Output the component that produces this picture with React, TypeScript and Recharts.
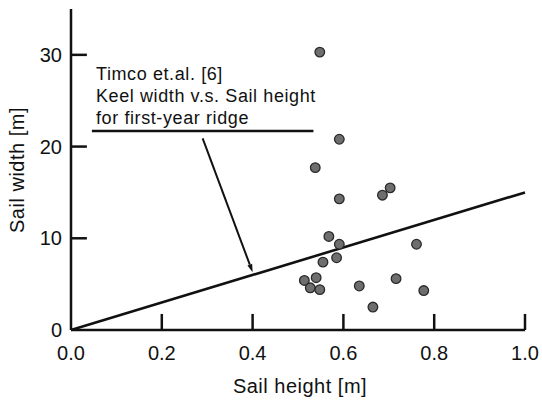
import React from 'react';
import { ComposedChart, XAxis, YAxis, Scatter, ReferenceLine, ReferenceDot } from 'recharts';

// Observed ridges: sail height [m] vs sail width [m]
const sailHeight = [0.548, 0.591, 0.538, 0.703, 0.686, 0.591, 0.568, 0.591, 0.761, 0.585, 0.555, 0.540, 0.514, 0.527, 0.548, 0.635, 0.716, 0.777, 0.665];
const sailWidth = [30.3, 20.8, 17.7, 15.5, 14.7, 14.3, 10.2, 9.35, 9.35, 7.88, 7.4, 5.7, 5.4, 4.6, 4.4, 4.8, 5.6, 4.3, 2.5];

// Timco et al. keel width vs sail height line
const timcoX = [0, 1];
const timcoY = [0, 15];

// Annotation geometry (data units)
const underlineX = [0.046, 0.534];
const underlineY = 21.7;
const arrowFrom = { x: 0.29, y: 20.9 };
const arrowTo = { x: 0.4, y: 6.3 };
const noteAnchor = { x: 0.055, y: 27.3 };
const noteLines = ['Timco et.al. [6]', 'Keel width v.s. Sail height', 'for first-year ridge'];

const xDomain = [0, 1];
const yDomain = [0, 35];
const xTicks = [0, 0.2, 0.4, 0.6, 0.8, 1.0];
const yTicks = [0, 10, 20, 30];
// inward tick-mark lengths in data units
const xTickLen = 1.75; // along y
const yTickLen = 0.035; // along x

const points = sailHeight.map((h, i) => ({ x: h, y: sailWidth[i] }));

const FONT = '"Liberation Sans", Arial, Helvetica, sans-serif';
const INK = '#111';

const YTick = (props: any) => {
  const x = Number(props.x);
  const y = Number(props.y);
  const v = props.payload.value;
  return (
    <text x={x - 9} y={y} dy="0.36em" textAnchor="end" fontSize={20} fontFamily={FONT} fill={INK}>
      {v}
    </text>
  );
};

const XTick = (props: any) => {
  const x = Number(props.x);
  const y = Number(props.y);
  const v = props.payload.value;
  return (
    <text x={x} y={y + 30} textAnchor="middle" fontSize={20} fontFamily={FONT} fill={INK}>
      {Number(v).toFixed(1)}
    </text>
  );
};

const Arrow = (props: any) => {
  const { x1, y1, x2, y2 } = props;
  const ang = Math.atan2(y2 - y1, x2 - x1);
  const L = 8;
  const W = 2.5;
  const bx = x2 - L * Math.cos(ang);
  const by = y2 - L * Math.sin(ang);
  const px = -Math.sin(ang) * W;
  const py = Math.cos(ang) * W;
  return (
    <g>
      <line x1={x1} y1={y1} x2={bx} y2={by} stroke={INK} strokeWidth={2} />
      <polygon points={`${x2},${y2} ${bx + px},${by + py} ${bx - px},${by - py}`} fill={INK} />
    </g>
  );
};

const NoteLabel = (props: any) => {
  const { viewBox } = props;
  const x = viewBox.x;
  const y = viewBox.y;
  return (
    <text fontSize={18} fontFamily={FONT} fill={INK} letterSpacing={0.6}>
      {noteLines.map((t, i) => (
        <tspan key={i} x={x} y={y + i * 22}>
          {t}
        </tspan>
      ))}
    </text>
  );
};

const Dot = (props: any) => {
  const { cx, cy } = props;
  return <circle cx={cx} cy={cy} r={4.8} fill="#6e6e6e" stroke="#2a2a2a" strokeWidth={1.3} />;
};

export default function App() {
  return (
    <div style={{ position: 'absolute', left: 0, top: 0, width: 542, height: 400, background: '#fff' }}>
      <ComposedChart width={542} height={400} margin={{ top: 9, right: 17, bottom: 30, left: 11 }}>
        <XAxis
          type="number"
          dataKey="x"
          domain={xDomain}
          ticks={xTicks}
          interval={0}
          height={40}
          tickSize={0}
          tickMargin={0}
          tickLine={false}
          tick={<XTick />}
          axisLine={{ stroke: INK, strokeWidth: 2.5 }}
          allowDataOverflow
          label={{
            content: () => (
              <text x={300} y={393} textAnchor="middle" fontSize={20} fontFamily={FONT} fill={INK} letterSpacing={0.5}>
                Sail height [m]
              </text>
            ),
          }}
        />
        <YAxis
          type="number"
          dataKey="y"
          domain={yDomain}
          ticks={yTicks}
          interval={0}
          width={60}
          tickSize={0}
          tickMargin={0}
          tickLine={false}
          tick={<YTick />}
          axisLine={{ stroke: INK, strokeWidth: 2.5 }}
          allowDataOverflow
          label={{
            content: () => (
              <text
                x={17}
                y={170}
                dy="0.36em"
                textAnchor="middle"
                fontSize={20}
                fontFamily={FONT}
                fill={INK}
                letterSpacing={0.5}
                transform="rotate(-90, 17, 170)"
              >
                Sail width [m]
              </text>
            ),
          }}
        />
        {xTicks.slice(1).map((t) => (
          <ReferenceLine
            key={`xt${t}`}
            segment={[
              { x: t, y: yDomain[0] },
              { x: t, y: yDomain[0] + xTickLen },
            ]}
            stroke={INK}
            strokeWidth={2.5}
            ifOverflow="visible"
          />
        ))}
        {yTicks.slice(1).map((t) => (
          <ReferenceLine
            key={`yt${t}`}
            segment={[
              { x: xDomain[0], y: t },
              { x: xDomain[0] + yTickLen, y: t },
            ]}
            stroke={INK}
            strokeWidth={2.5}
            ifOverflow="visible"
          />
        ))}
        <ReferenceLine
          segment={[
            { x: timcoX[0], y: timcoY[0] },
            { x: timcoX[1], y: timcoY[1] },
          ]}
          stroke={INK}
          strokeWidth={2.6}
        />
        <ReferenceLine
          segment={[
            { x: underlineX[0], y: underlineY },
            { x: underlineX[1], y: underlineY },
          ]}
          stroke={INK}
          strokeWidth={2.5}
        />
        <ReferenceLine segment={[arrowFrom, arrowTo]} shape={<Arrow />} />
        <ReferenceDot x={noteAnchor.x} y={noteAnchor.y} r={0} fill="none" stroke="none" label={{ content: <NoteLabel /> }} />
        <Scatter data={points} shape={<Dot />} isAnimationActive={false} />
      </ComposedChart>
    </div>
  );
}
